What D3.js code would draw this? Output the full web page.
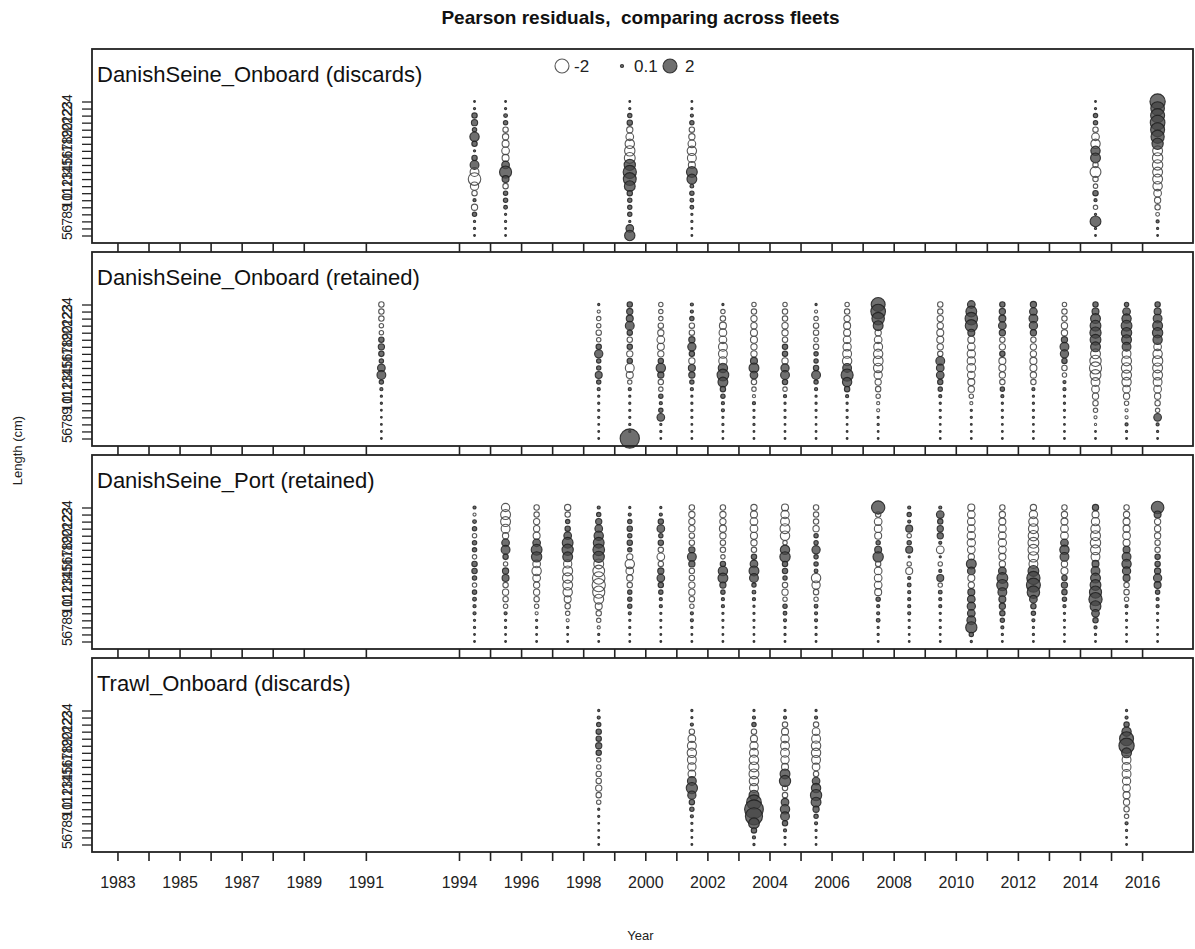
<!DOCTYPE html>
<html>
<head>
<meta charset="utf-8">
<script src="https://cdn.jsdelivr.net/npm/d3@7/dist/d3.min.js"></script>
<style>
  body { margin: 0; background: #fff; }
  svg { display: block; font-family: "Liberation Sans", Arial, sans-serif; }
</style>
</head>
<body>
<div id="chart"></div>
<script>
// length bins, top of each column first
const lengthBins = [24, 23, 22, 21, 20, 19, 18, 17, 16, 15, 14, 13, 12, 11, 10, 9, 8, 7, 6, 5];
const yearTicks = [1983, 1984, 1985, 1986, 1987, 1988, 1989, 1991, 1994, 1995, 1996, 1997, 1998, 1999, 2000,
  2001, 2002, 2003, 2004, 2005, 2006, 2007, 2008, 2009, 2010, 2011, 2012, 2013, 2014, 2015, 2016];
const yearLabels = [1983, 1985, 1987, 1989, 1991, 1994, 1996, 1998, 2000, 2002, 2004, 2006, 2008, 2010, 2012, 2014, 2016];
const legendValues = [-2, 0.1, 2];
const fleetNames = ["DanishSeine_Onboard (discards)", "DanishSeine_Onboard (retained)",
  "DanishSeine_Port (retained)", "Trawl_Onboard (discards)"];

// DanishSeine_Onboard (discards)
const dsOnboardDiscYears = [1994, 1995, 1999, 2001, 2014, 2016];
const dsOnboardDiscResid = [
  [0.03, 0.05, 0.3, 0.4, 0.2, 0.9, 0.3, 0.05, 0.3, 0.8, -0.8, -1.6, -0.7, -0.3, 0.1, -0.4, 0.2, 0.05, 0.05, 0.03],
  [0.03, 0.05, 0.15, 0.2, -0.3, -0.4, -0.5, -0.6, -0.5, 0.6, 1.5, 0.5, -0.3, 0.2, 0.2, 0.15, 0.05, 0.05, 0.03, 0.02],
  [0.03, 0.05, 0.2, 0.3, -0.4, -0.6, -0.9, -1.1, -1.2, 1.3, 1.8, 1.7, 1.2, 0.3, 0.2, 0.2, 0.2, 0.05, 0.6, 1.1],
  [0.03, 0.05, 0.1, 0.2, -0.3, -0.4, -0.6, -0.9, -0.8, -0.5, 1.2, 1.0, 0.15, 0.2, 0.15, 0.15, 0.05, 0.05, 0.03, 0.03],
  [0.03, 0.05, 0.2, 0.2, -0.3, -0.6, -0.9, 0.9, 1.0, -0.3, -1.2, -0.3, -0.2, 0.3, 0.1, -0.2, 0.05, 1.2, 0.05, 0.03],
  [2.4, 1.9, 2.0, 2.2, 2.0, 1.8, 1.3, -1.0, -1.1, -1.1, -1.0, -1.0, -0.9, -0.6, -0.4, -0.3, -0.15, 0.1, 0.05, 0.03]
];

// DanishSeine_Onboard (retained)
const dsOnboardRetYears = [1991, 1998, 1999, 2000, 2001, 2002, 2003, 2004, 2005, 2006, 2007,
  2009, 2010, 2011, 2012, 2013, 2014, 2015, 2016];
const dsOnboardRetResid = [
  [-0.3, -0.3, -0.3, -0.2, -0.2, 0.3, 0.4, 0.3, 0.2, 0.6, 0.8, 0.2, 0.1, 0.05, 0.05, 0.03, 0.03, 0.03, 0.03, 0.03],
  [0.05, -0.1, -0.2, -0.2, -0.3, -0.2, 0.3, 0.7, 0.2, 0.2, 0.5, 0.2, 0.1, 0.05, 0.05, 0.05, 0.05, 0.03, 0.03, 0.03],
  [0.3, 0.4, 0.5, 0.8, 0.3, -0.3, 0.3, -0.4, 0.3, -0.8, -0.5, -0.2, 0.1, 0.05, 0.05, 0.05, 0.05, 0.05, 0.05, 3.8],
  [-0.2, -0.2, -0.2, -0.3, -0.4, -0.6, -0.5, -0.4, 0.3, 0.9, 0.4, -0.3, -0.2, 0.2, 0.1, 0.2, 0.6, 0.05, 0.05, 0.03],
  [0.1, 0.1, 0.2, -0.3, -0.3, 0.4, 0.7, 0.3, -0.4, 0.5, 0.4, 0.2, 0.1, 0.05, 0.05, 0.05, 0.05, 0.03, 0.03, 0.03],
  [0.05, -0.2, -0.3, -0.5, -0.6, -0.6, -0.8, -0.8, -0.7, 0.9, 1.4, 1.0, 0.3, 0.2, 0.1, 0.1, 0.05, 0.05, 0.03, 0.03],
  [-0.2, -0.3, -0.4, -0.4, -0.5, -0.5, -0.4, -0.4, 0.5, 1.0, 0.6, -0.3, -0.2, -0.1, 0.1, 0.05, 0.05, 0.05, 0.03, 0.03],
  [-0.2, -0.3, -0.3, -0.4, -0.4, -0.3, 0.3, 0.3, -0.4, 0.7, 0.8, 0.3, -0.2, 0.1, 0.05, 0.05, 0.05, 0.03, 0.03, 0.03],
  [0.05, -0.1, -0.2, -0.3, -0.3, -0.2, -0.3, 0.2, 0.2, 0.3, 0.8, 0.2, 0.1, 0.05, 0.05, 0.05, 0.03, 0.03, 0.03, 0.03],
  [-0.2, -0.3, -0.4, -0.5, -0.5, -0.6, -0.7, -0.8, -0.9, 0.8, 1.5, 0.9, 0.3, 0.1, 0.05, 0.05, 0.05, 0.03, 0.03, 0.03],
  [2.0, 2.2, 1.6, 1.0, -0.4, -0.6, -0.8, -0.9, -1.0, -0.9, -0.7, -0.4, -0.3, -0.2, -0.1, -0.1, 0.05, 0.05, 0.03, 0.03],
  [-0.3, -0.3, -0.4, -0.4, -0.5, -0.5, -0.4, -0.3, 0.8, 0.6, 0.6, 0.3, 0.2, 0.1, 0.05, 0.05, 0.05, 0.03, 0.03, 0.03],
  [0.6, 1.2, 1.6, 1.5, 0.5, -0.5, -0.6, -0.7, -0.7, -0.8, -0.6, -0.5, -0.4, -0.2, -0.1, 0.05, 0.05, 0.03, 0.03, 0.03],
  [0.3, 0.4, 0.5, 0.6, 0.4, -0.3, -0.4, 0.3, -0.5, -0.5, -0.4, -0.3, 0.2, 0.1, 0.05, 0.05, 0.05, 0.03, 0.03, 0.03],
  [0.4, 0.6, 0.8, 0.7, 0.4, -0.3, -0.4, -0.4, -0.5, -0.5, -0.4, -0.3, 0.1, 0.05, 0.05, 0.05, 0.05, 0.03, 0.03, 0.03],
  [-0.2, -0.3, -0.3, -0.4, -0.4, 0.4, 0.8, 0.7, 0.3, -0.3, -0.2, 0.1, 0.1, 0.05, 0.05, 0.05, 0.03, 0.03, 0.03, 0.03],
  [0.3, 0.5, 1.0, 1.2, 1.3, 1.2, 1.0, -1.0, -1.3, -1.5, -1.2, -0.8, -0.6, -0.4, -0.3, -0.2, -0.1, -0.05, 0.03, 0.03],
  [0.2, 0.6, 0.9, 1.2, 1.1, 1.0, 0.8, -0.8, -1.0, -1.1, -1.0, -0.9, -0.6, -0.4, -0.2, -0.1, -0.1, 0.1, 0.05, 0.03],
  [0.3, 0.5, 0.8, 1.0, 1.1, 0.9, -0.6, -0.9, -1.1, -1.0, -1.0, -0.8, -0.6, -0.4, -0.3, -0.2, 0.6, 0.1, 0.05, 0.03]
];

// DanishSeine_Port (retained)
const dsPortRetYears = [1994, 1995, 1996, 1997, 1998, 1999, 2000, 2001, 2002, 2003, 2004, 2005,
  2007, 2008, 2009, 2010, 2011, 2012, 2013, 2014, 2015, 2016];
const dsPortRetResid = [
  [0.1, -0.1, 0.15, 0.2, -0.2, 0.2, 0.2, -0.2, 0.3, 0.3, 0.2, -0.2, 0.2, 0.15, 0.1, 0.1, 0.05, 0.05, 0.03, 0.03],
  [-0.7, -1.0, -1.0, -0.8, -0.4, 0.6, 0.8, 0.3, -0.2, 0.4, 0.5, -0.3, -0.4, -0.3, -0.2, 0.1, 0.05, 0.05, 0.03, 0.03],
  [-0.3, -0.3, -0.4, -0.4, -0.5, 0.6, 1.2, 1.1, -0.6, -0.9, -0.6, -0.4, -0.4, -0.3, -0.2, -0.1, 0.05, 0.05, 0.03, 0.03],
  [-0.4, -0.3, 0.2, 0.3, 0.6, 1.2, 1.3, 1.0, -0.7, -1.0, -1.1, -1.0, -0.9, -0.5, -0.3, -0.2, -0.1, 0.05, 0.03, 0.03],
  [0.1, 0.2, 0.4, 0.6, 0.9, 1.2, 1.4, 1.3, -1.0, -1.4, -1.6, -1.8, -1.5, -1.0, -0.5, -0.3, -0.2, -0.1, 0.05, 0.03],
  [0.05, 0.1, 0.2, 0.3, 0.2, 0.3, 0.2, -0.4, -0.9, -0.6, -0.4, -0.3, 0.2, 0.2, 0.2, 0.1, 0.05, 0.05, 0.03, 0.03],
  [0.05, 0.1, 0.3, 0.6, 0.2, 0.3, -0.3, -0.6, -0.3, 0.4, 0.6, 0.3, 0.2, 0.1, 0.1, 0.05, 0.05, 0.03, 0.03, 0.03],
  [-0.3, -0.4, -0.4, -0.4, -0.3, -0.3, 0.4, 0.8, 0.4, -0.3, -0.3, -0.4, -0.4, -0.3, -0.2, 0.1, 0.1, 0.05, 0.03, 0.03],
  [-0.3, -0.4, -0.4, -0.5, -0.4, -0.3, -0.3, -0.2, 0.3, 0.9, 1.0, 0.4, 0.2, 0.1, 0.1, 0.05, 0.05, 0.03, 0.03, 0.03],
  [-0.4, -0.5, -0.6, -0.6, -0.5, -0.4, -0.3, 0.3, 0.6, 1.0, 0.8, 0.2, 0.15, 0.1, 0.05, 0.05, 0.05, 0.03, 0.03, 0.03],
  [-0.5, -0.7, -0.8, -1.0, -0.9, -0.2, 0.9, 1.1, 0.3, 0.3, 0.2, -0.3, -0.4, -0.2, 0.2, 0.15, 0.1, 0.05, 0.05, 0.03],
  [-0.3, -0.3, -0.3, -0.4, 0.2, 0.2, 0.7, 0.2, 0.2, 0.15, -0.9, -0.7, -0.3, -0.2, 0.15, 0.1, 0.1, 0.05, 0.05, 0.03],
  [1.8, -0.3, -0.6, -0.6, -0.5, 0.2, 0.5, 1.1, -0.3, -0.6, -0.6, -0.6, -0.5, 0.2, 0.1, 0.1, 0.15, 0.05, 0.05, 0.03],
  [0.1, 0.2, 0.1, 0.5, -0.2, 0.2, 0.5, 0.05, -0.2, -0.5, 0.1, 0.15, 0.1, 0.1, 0.1, 0.1, 0.05, 0.05, 0.03, 0.03],
  [0.1, 0.6, 0.3, 0.4, 0.4, 0.1, -0.6, 0.05, -0.2, 0.1, 0.5, -0.2, 0.15, 0.1, 0.1, 0.05, 0.05, 0.05, 0.03, 0.03],
  [-0.5, -0.6, -0.6, -0.6, -0.7, -0.7, -0.6, -0.4, 1.0, 0.6, -0.5, -0.4, 0.5, 0.6, 0.7, 0.6, 0.8, 1.3, 0.2, 0.05],
  [-0.3, -0.4, -0.5, -0.6, -0.6, -0.7, -0.6, -0.5, -0.4, 0.6, 1.2, 1.3, 0.8, 0.5, 0.4, 0.3, 0.2, 0.1, 0.05, 0.03],
  [-0.4, -0.7, -0.9, -1.0, -1.1, -1.2, -1.2, -1.1, -0.8, 1.2, 1.8, 2.0, 1.6, 0.6, 0.3, 0.2, 0.1, 0.05, 0.05, 0.03],
  [-0.3, -0.4, -0.5, -0.6, -0.6, 0.6, 0.9, 0.8, -0.4, -0.5, 0.3, 0.4, 0.3, 0.2, 0.1, 0.05, 0.05, 0.03, 0.03, 0.03],
  [0.4, -0.5, -0.7, -0.9, -1.0, -1.1, -1.0, -0.8, 0.5, 0.8, 1.0, 1.2, 1.5, 1.8, 1.2, 0.6, 0.3, 0.1, 0.05, 0.03],
  [-0.3, -0.4, -0.5, -0.5, -0.6, -0.5, 0.5, 0.8, 0.9, 0.7, 0.5, -0.3, -0.3, -0.2, 0.1, 0.05, 0.05, 0.03, 0.03, 0.03],
  [1.6, 0.5, -0.4, -0.4, -0.4, -0.3, -0.3, 0.3, 0.3, 0.4, 0.7, 0.5, 0.2, 0.1, 0.1, 0.05, 0.05, 0.03, 0.03, 0.03]
];

// Trawl_Onboard (discards)
const trawlOnboardDiscYears = [1998, 2001, 2003, 2004, 2005, 2015];
const trawlOnboardDiscResid = [
  [0.05, 0.1, 0.2, 0.3, 0.3, 0.4, 0.3, -0.2, -0.2, -0.3, -0.3, -0.4, -0.3, -0.2, 0.05, 0.05, 0.03, 0.03, 0.03, 0.03],
  [0.05, 0.05, 0.1, -0.3, -0.6, -0.8, -0.9, -0.8, -0.7, -0.6, 0.8, 1.3, 0.7, 0.3, 0.2, 0.1, 0.05, 0.05, 0.03, 0.03],
  [0.05, 0.1, 0.2, -0.3, -0.5, -0.7, -0.8, -0.9, -1.0, -1.0, -0.9, -0.8, 1.0, 2.2, 3.6, 3.0, 1.2, 0.3, 0.1, 0.05],
  [0.05, 0.1, -0.3, -0.5, -0.7, -0.8, -0.8, -0.7, -0.5, 1.0, 1.3, -0.3, -0.3, 0.6, 0.9, 0.8, 0.3, 0.1, 0.05, 0.03],
  [0.05, 0.1, -0.3, -0.6, -0.8, -0.9, -0.9, -0.8, -0.6, -0.3, 0.6, 0.9, 1.3, 1.0, 0.4, 0.2, 0.1, 0.05, 0.03, 0.03],
  [0.05, 0.1, 0.3, 0.9, 2.0, 2.4, 1.0, -0.8, -0.8, -0.8, -0.7, -0.6, -0.5, -0.4, -0.3, -0.2, 0.1, 0.05, 0.03, 0.03]
];

const panels = [
  { name: fleetNames[0], years: dsOnboardDiscYears, resid: dsOnboardDiscResid, legend: true },
  { name: fleetNames[1], years: dsOnboardRetYears, resid: dsOnboardRetResid },
  { name: fleetNames[2], years: dsPortRetYears, resid: dsPortRetResid },
  { name: fleetNames[3], years: trawlOnboardDiscYears, resid: trawlOnboardDiscResid }
];

const width = 1195, height = 949;
const left = 92, right = 1193;
const panelTop = 49, panelH = 194, panelStep = 203;

const svg = d3.select("#chart").append("svg")
  .attr("width", width).attr("height", height);

const x = d3.scaleLinear().domain([1982.18, 2017.64]).range([left, right]);
const r = d3.scaleSqrt().domain([0, 2]).range([0, 7]);

function drawBubble(g, cx, cy, z) {
  g.append("circle")
    .attr("cx", cx).attr("cy", cy)
    .attr("r", Math.max(r(Math.abs(z)), 0.9))
    .attr("fill", z > 0 ? "rgba(70,70,70,0.78)" : "none")
    .attr("stroke", z > 0 ? "rgba(30,30,30,0.85)" : "rgba(70,70,70,0.9)")
    .attr("stroke-width", 1.1);
}

panels.forEach((p, i) => {
  const top = panelTop + i * panelStep;
  const y = d3.scaleLinear().domain([5, 24]).range([top + 186.5, top + 52.5]);
  const g = svg.append("g");

  // bubbles
  p.years.forEach((yr, j) => {
    p.resid[j].forEach((z, k) => {
      drawBubble(g, x(yr + 0.5), y(lengthBins[k]), z);
    });
  });

  // frame
  g.append("rect")
    .attr("x", left).attr("y", top)
    .attr("width", right - left).attr("height", panelH)
    .attr("fill", "none").attr("stroke", "#222").attr("stroke-width", 1.8);

  g.append("text")
    .attr("x", left + 5).attr("y", top + 33)
    .attr("font-size", 22).attr("fill", "#111")
    .text(p.name);

  // y axis
  const ya = g.append("g").attr("transform", `translate(${left},0)`)
    .call(d3.axisLeft(y).tickValues(lengthBins).tickSize(10).tickPadding(0));
  ya.select(".domain").remove();
  ya.selectAll("line").attr("stroke", "#222").attr("stroke-width", 1.3);
  ya.selectAll("text")
    .attr("font-size", 14).attr("fill", "#222")
    .attr("text-anchor", "middle")
    .attr("x", null).attr("dy", null)
    .attr("transform", "translate(-20,0) rotate(-90)");

  // x axis
  const xa = g.append("g").attr("transform", `translate(0,${top + panelH})`)
    .call(d3.axisBottom(x).tickValues(yearTicks).tickSize(9).tickPadding(16)
      .tickFormat(d => (i === panels.length - 1 && yearLabels.includes(d)) ? d : ""));
  xa.select(".domain").remove();
  xa.selectAll("line").attr("stroke", "#222").attr("stroke-width", 1.6);
  xa.selectAll("text").attr("font-size", 16).attr("fill", "#222")
    .attr("font-family", "Liberation Sans, Arial, sans-serif");

  if (p.legend) {
    const lg = g.append("g");
    const ly = top + 17;
    const lx = [562, 622, 670];
    const tx = [574, 634, 685];
    legendValues.forEach((v, k) => {
      drawBubble(lg, lx[k], ly, v);
      lg.append("text")
        .attr("x", tx[k]).attr("y", ly + 6)
        .attr("font-size", 17).attr("fill", "#222")
        .text(v);
    });
  }
});

svg.append("text")
  .attr("x", (left + right) / 2 - 2).attr("y", 24)
  .attr("text-anchor", "middle").attr("font-weight", "bold")
  .attr("font-size", 19).attr("fill", "#111")
  .style("white-space", "pre")
  .text("Pearson residuals,  comparing across fleets");

svg.append("text")
  .attr("transform", `translate(22,${panelTop + (3 * panelStep + panelH) / 2}) rotate(-90)`)
  .attr("text-anchor", "middle").attr("font-size", 13).attr("fill", "#222")
  .text("Length (cm)");

svg.append("text")
  .attr("x", (left + right) / 2 - 2).attr("y", 940)
  .attr("text-anchor", "middle").attr("font-size", 13).attr("fill", "#222")
  .text("Year");
</script>
</body>
</html>
